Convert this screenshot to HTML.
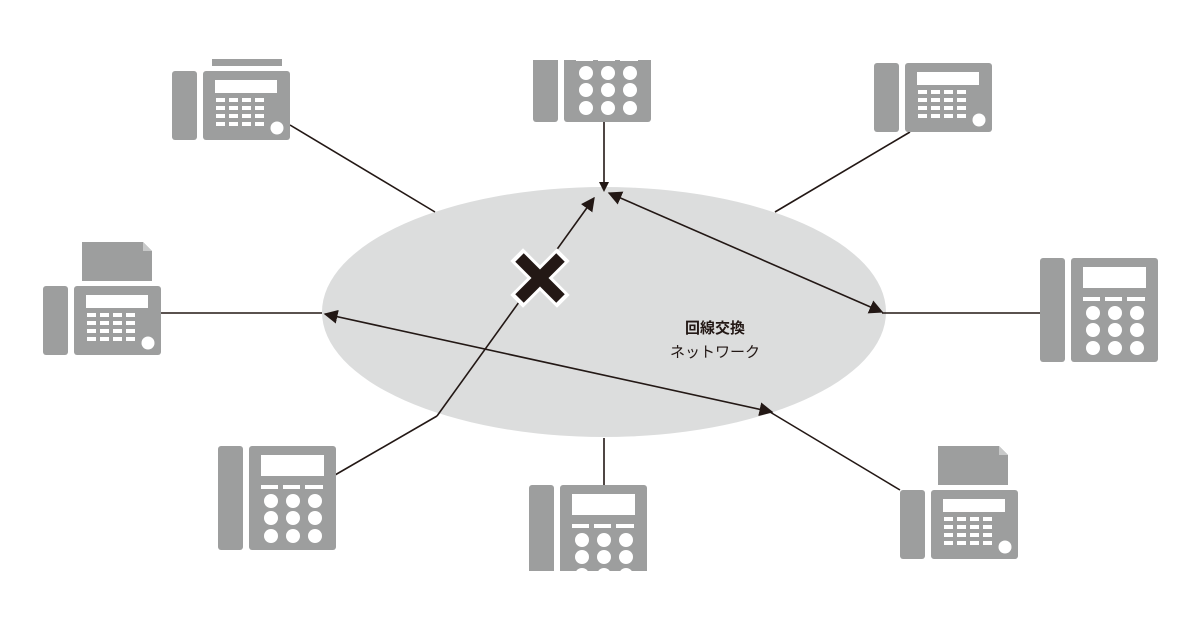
<!DOCTYPE html>
<html><head><meta charset="utf-8"><style>
html,body{margin:0;padding:0;background:#fff;}
svg{display:block;}
text{font-family:"Liberation Sans","Noto Sans CJK JP",sans-serif;}
</style></head><body>
<svg width="1200" height="630" viewBox="0 0 1200 630" xmlns="http://www.w3.org/2000/svg">
<defs>
<marker id="ah" viewBox="0 0 10 10" refX="9" refY="5" markerWidth="14" markerHeight="14" markerUnits="userSpaceOnUse" orient="auto-start-reverse">
<path d="M0,0 L10,5 L0,10 z" fill="#231815"/>
</marker>
<g id="keys4">
<rect x="0" y="0" width="9" height="4" fill="#fff"/><rect x="13" y="0" width="9" height="4" fill="#fff"/><rect x="26" y="0" width="9" height="4" fill="#fff"/><rect x="39" y="0" width="9" height="4" fill="#fff"/>
<rect x="0" y="8" width="9" height="4" fill="#fff"/><rect x="13" y="8" width="9" height="4" fill="#fff"/><rect x="26" y="8" width="9" height="4" fill="#fff"/><rect x="39" y="8" width="9" height="4" fill="#fff"/>
<rect x="0" y="16" width="9" height="4" fill="#fff"/><rect x="13" y="16" width="9" height="4" fill="#fff"/><rect x="26" y="16" width="9" height="4" fill="#fff"/><rect x="39" y="16" width="9" height="4" fill="#fff"/>
<rect x="0" y="24" width="9" height="4" fill="#fff"/><rect x="13" y="24" width="9" height="4" fill="#fff"/><rect x="26" y="24" width="9" height="4" fill="#fff"/><rect x="39" y="24" width="9" height="4" fill="#fff"/>
</g>
<!-- fax unit: origin at handset top-left, size 118x69 -->
<g id="fax">
<rect x="0" y="0" width="25" height="69" rx="3" fill="#9d9e9e"/>
<rect x="31" y="0" width="87" height="69" rx="3" fill="#9d9e9e"/>
<rect x="43" y="9" width="62" height="13" fill="#fff"/>
<use href="#keys4" x="44" y="27"/>
<circle cx="105" cy="57" r="6.5" fill="#fff"/>
</g>
<!-- phone: size 118x104 -->
<g id="phone">
<rect x="0" y="0" width="25" height="104" rx="3" fill="#9d9e9e"/>
<rect x="31" y="0" width="87" height="104" rx="3" fill="#9d9e9e"/>
<rect x="43" y="9" width="63" height="21" fill="#fff"/>
<rect x="43" y="39" width="17" height="4" fill="#fff"/><rect x="65" y="39" width="17" height="4" fill="#fff"/><rect x="87" y="39" width="18" height="4" fill="#fff"/>
<circle cx="53" cy="55" r="7" fill="#fff"/><circle cx="75" cy="55" r="7" fill="#fff"/><circle cx="97" cy="55" r="7" fill="#fff"/>
<circle cx="53" cy="72" r="7" fill="#fff"/><circle cx="75" cy="72" r="7" fill="#fff"/><circle cx="97" cy="72" r="7" fill="#fff"/>
<circle cx="53" cy="90" r="7" fill="#fff"/><circle cx="75" cy="90" r="7" fill="#fff"/><circle cx="97" cy="90" r="7" fill="#fff"/>
</g>
<g id="paper">
<path d="M0,0 H61 L70,9 V39 H0 z" fill="#9d9e9e"/>
<path d="M61,0 L70,9 H61 z" fill="#c8c9c9"/>
</g>
</defs>

<ellipse cx="604" cy="312" rx="282" ry="125" fill="#dcdddd"/>

<!-- connector lines -->
<g stroke="#231815" stroke-width="1.6" fill="none">
<line x1="290" y1="125" x2="435" y2="212"/>
<line x1="910" y1="132" x2="775" y2="212"/>
<line x1="604" y1="122" x2="604" y2="188"/>
<line x1="160" y1="313" x2="322" y2="313"/>
<line x1="1040" y1="313" x2="882" y2="313"/>
<line x1="335" y1="475" x2="437" y2="416"/>
<line x1="604" y1="438" x2="604" y2="485"/>
<line x1="900" y1="490" x2="770" y2="412"/>
<line x1="325" y1="314" x2="772" y2="412" marker-start="url(#ah)" marker-end="url(#ah)"/>
<line x1="609" y1="193" x2="882" y2="312" marker-start="url(#ah)" marker-end="url(#ah)"/>
<line x1="437" y1="416" x2="594" y2="198" marker-end="url(#ah)"/>
</g>
<path d="M599,182 L609,182 L604,192 z" fill="#231815"/>

<!-- X mark -->
<g transform="translate(540,278) rotate(45)">
<rect x="-33" y="-9" width="66" height="18" fill="#fff"/>
<rect x="-9" y="-33" width="18" height="66" fill="#fff"/>
<rect x="-29" y="-6" width="58" height="12" fill="#231815"/>
<rect x="-6" y="-29" width="12" height="58" fill="#231815"/>
</g>

<text x="715" y="333" font-size="15" font-weight="bold" fill="#231815" text-anchor="middle">回線交換</text>
<text x="715" y="357" font-size="15" fill="#231815" text-anchor="middle">ネットワーク</text>

<!-- devices -->
<rect x="212" y="59" width="70" height="7" fill="#9d9e9e"/>
<use href="#fax" x="172" y="71"/>

<use href="#phone" x="533" y="18"/>
<rect x="520" y="0" width="150" height="60" fill="#fff"/>

<use href="#fax" x="874" y="63"/>

<use href="#paper" x="82" y="242"/>
<use href="#fax" x="43" y="286"/>

<use href="#phone" x="1040" y="258"/>

<use href="#phone" x="218" y="446"/>

<use href="#phone" x="529" y="485"/>
<rect x="500" y="571" width="200" height="60" fill="#fff"/>

<use href="#paper" x="938" y="446"/>
<use href="#fax" x="900" y="490"/>
</svg>
</body></html>
